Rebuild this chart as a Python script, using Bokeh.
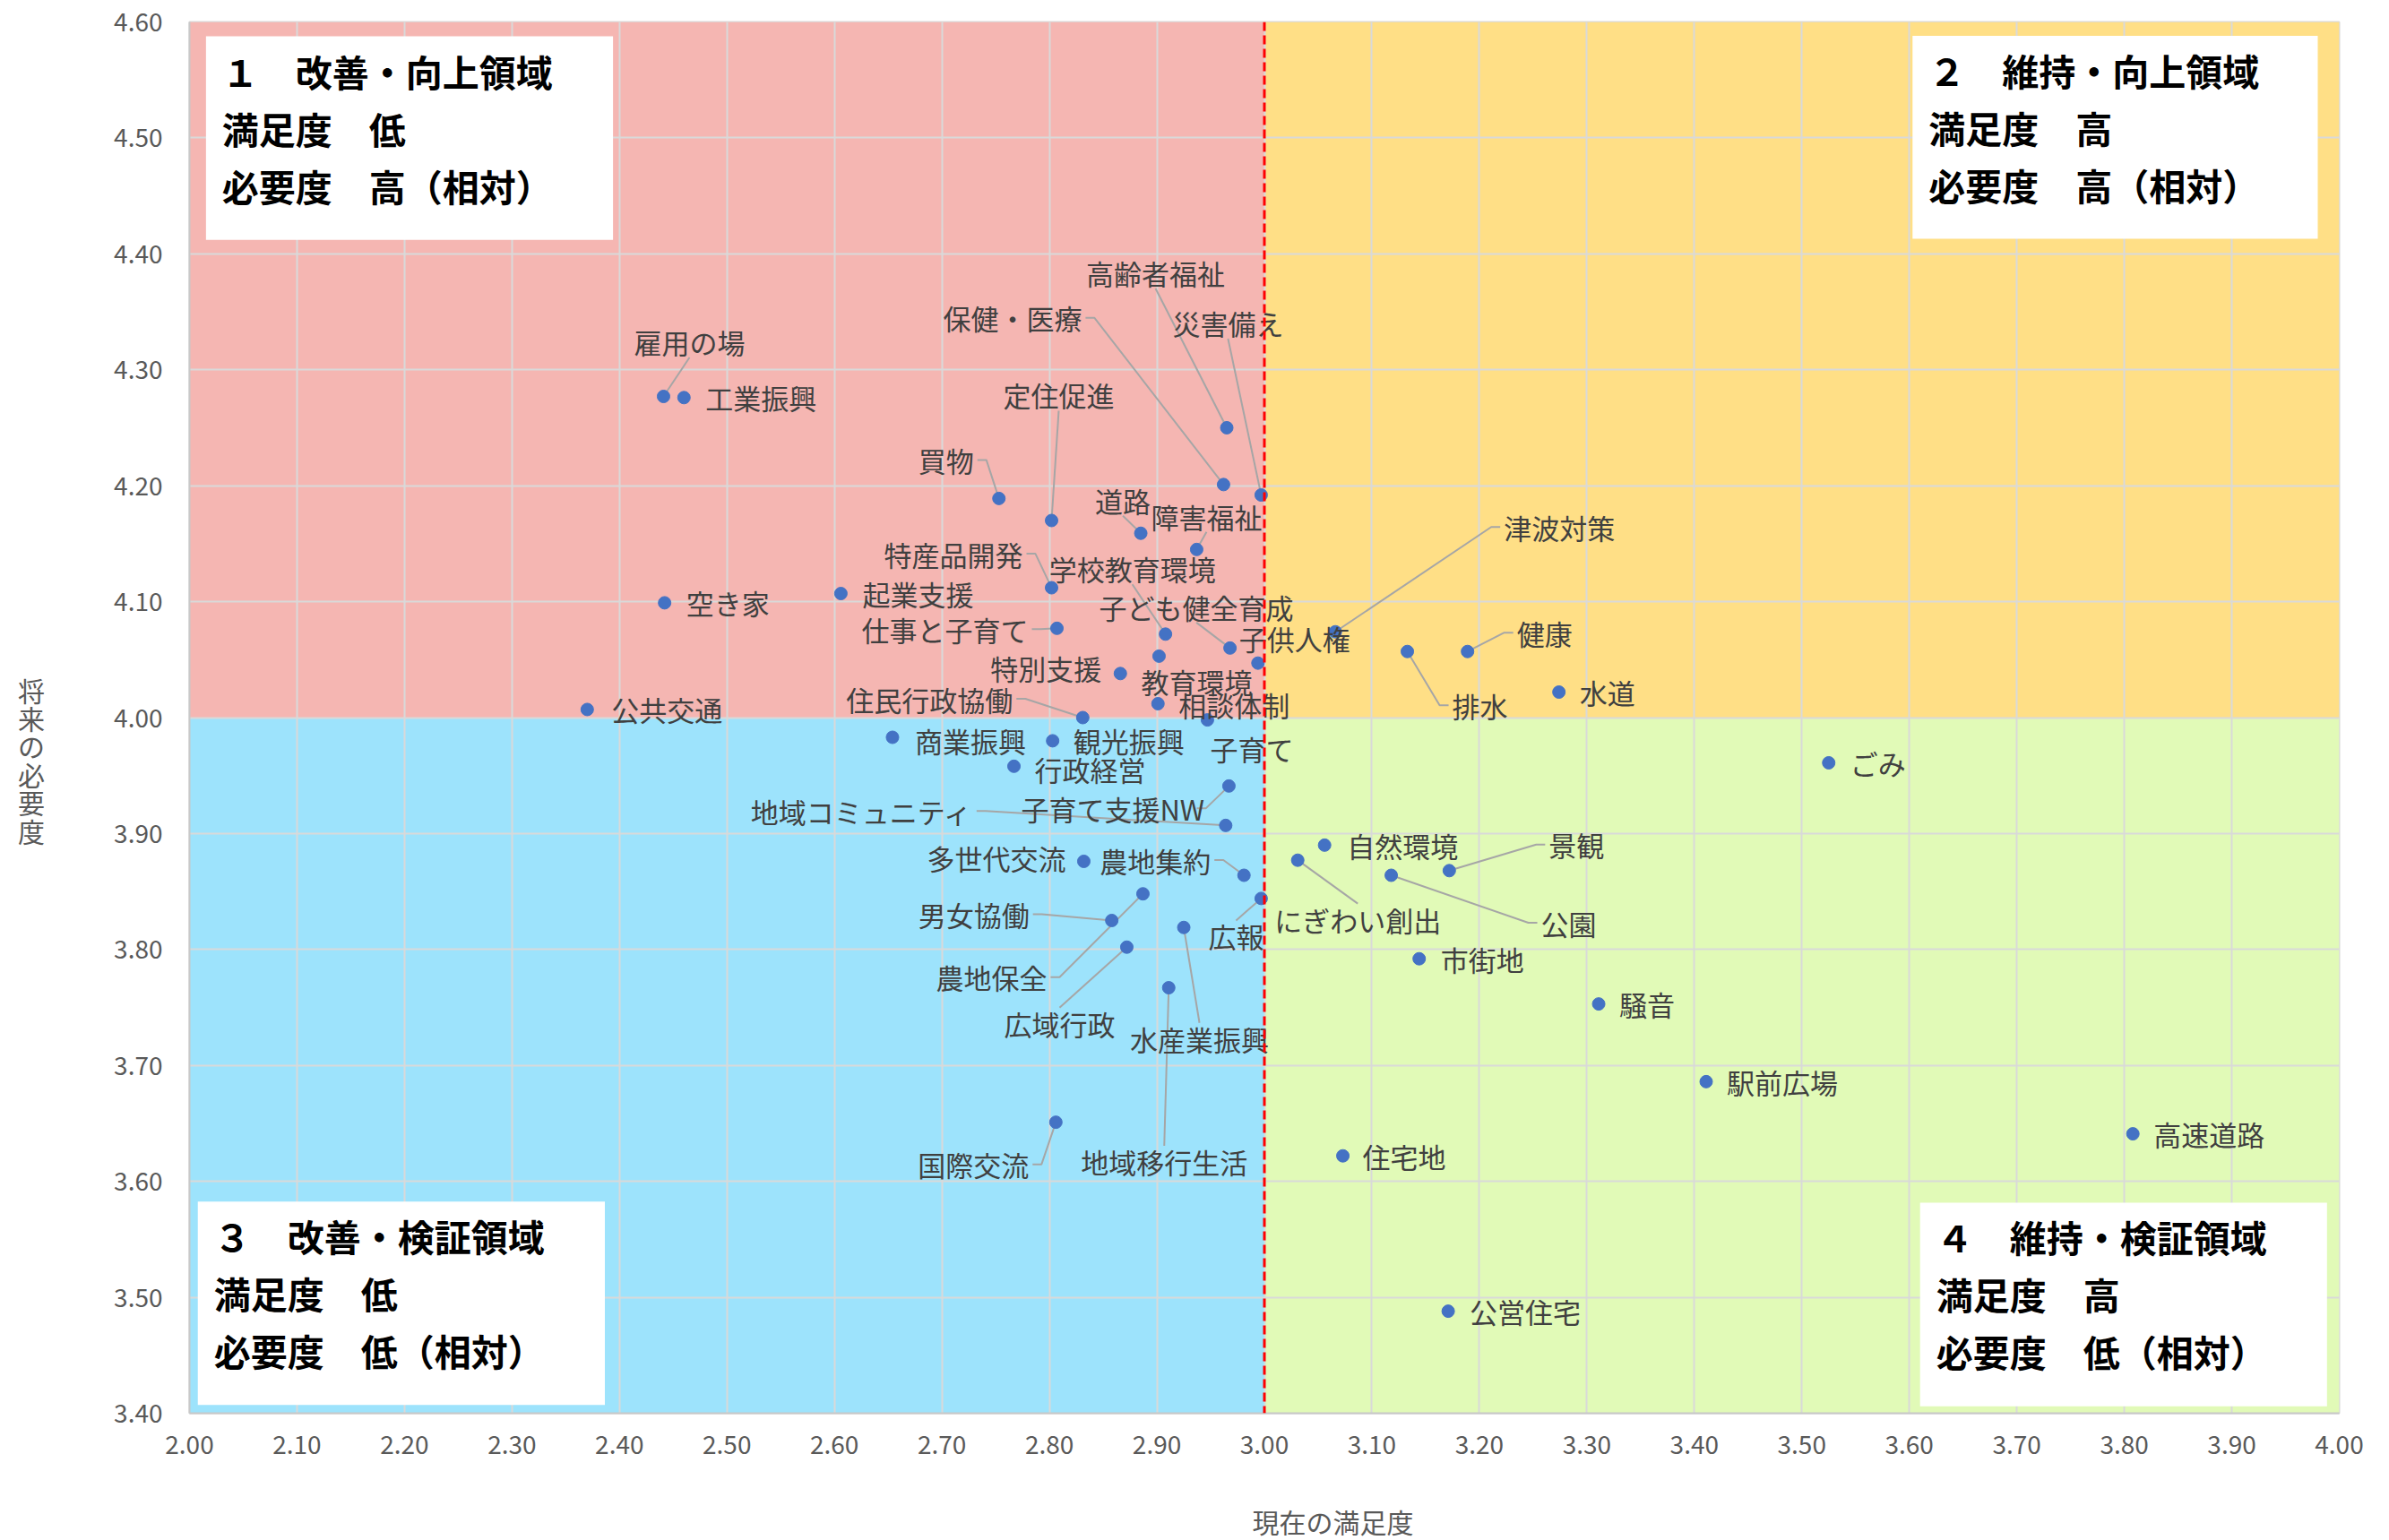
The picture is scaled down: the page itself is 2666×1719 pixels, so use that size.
from bokeh.plotting import figure
from bokeh.models import Range1d, FixedTicker, PrintfTickFormatter, Span, ColumnDataSource, LinearAxis, Title
from bokeh.embed import file_html
from bokeh.resources import INLINE
from bokeh.core.properties import value

# ---------------- data ----------------
items = [
    "雇用の場", "工業振興", "高齢者福祉", "保健・医療", "災害備え", "定住促進", "買物", "道路",
    "障害福祉", "特産品開発", "学校教育環境", "空き家", "起業支援", "仕事と子育て", "子ども健全育成",
    "子供人権", "教育環境", "特別支援", "相談体制", "住民行政協働", "公共交通",
    "津波対策", "健康", "排水", "水道",
    "商業振興", "観光振興", "子育て", "行政経営", "子育て支援NW", "地域コミュニティ", "多世代交流",
    "農地集約", "男女協働", "農地保全", "広域行政", "水産業振興", "地域移行生活", "国際交流", "広報",
    "ごみ", "自然環境", "にぎわい創出", "公園", "景観", "市街地", "騒音", "駅前広場", "住宅地",
    "高速道路", "公営住宅",
]
satisfaction = [
    2.441, 2.460, 2.965, 2.962, 2.997, 2.802, 2.753, 2.885,
    2.937, 2.802, 2.908, 2.442, 2.606, 2.807, 2.968,
    2.994, 2.902, 2.866, 2.901, 2.831, 2.370,
    3.066, 3.189, 3.133, 3.274,
    2.654, 2.803, 2.947, 2.767, 2.967, 2.964, 2.832,
    2.981, 2.858, 2.887, 2.872, 2.925, 2.911, 2.806, 2.997,
    3.525, 3.056, 3.031, 3.118, 3.172, 3.144, 3.311, 3.411, 3.073,
    3.808, 3.171,
]
necessity = [
    4.277, 4.276, 4.250, 4.201, 4.192, 4.170, 4.189, 4.159,
    4.145, 4.112, 4.072, 4.099, 4.107, 4.077, 4.060,
    4.047, 4.053, 4.038, 4.012, 4.000, 4.007,
    4.074, 4.057, 4.057, 4.022,
    3.983, 3.980, 3.998, 3.958, 3.941, 3.907, 3.876,
    3.864, 3.825, 3.848, 3.802, 3.819, 3.767, 3.651, 3.844,
    3.961, 3.890, 3.877, 3.864, 3.868, 3.792, 3.753, 3.686, 3.622,
    3.641, 3.488,
]
x_ticks = [2.0, 2.1, 2.2, 2.3, 2.4, 2.5, 2.6, 2.7, 2.8, 2.9, 3.0,
           3.1, 3.2, 3.3, 3.4, 3.5, 3.6, 3.7, 3.8, 3.9, 4.0]
y_ticks = [3.4, 3.5, 3.6, 3.7, 3.8, 3.9, 4.0, 4.1, 4.2, 4.3, 4.4, 4.5, 4.6]
x_threshold = 3.0
y_threshold = 4.0
quadrant_titles = ["１　改善・向上領域", "２　維持・向上領域", "３　改善・検証領域", "４　維持・検証領域"]
quadrant_sat = ["満足度　低", "満足度　高", "満足度　低", "満足度　高"]
quadrant_need = ["必要度　高（相対）", "必要度　高（相対）", "必要度　低（相対）", "必要度　低（相対）"]
x_title = "現在の満足度"
y_title = "将来の必要度"

# ---------------- layout (pixels) ----------------
label_dx = [-33, 24, -157, -313, -99, -54, -90, -51,
            -51, -187, -130, 24, 24, -218, -146,
            -21, -20, -145, 23, -264, 27,
            188, 55, 50, 23,
            25, 23, 3, 23, -232, -530, -175,
            -161, -216, -231, -137, -60, -98, -154, -59,
            24, 25, -26, 167, 111, 24, 23, 23, 22,
            23, 24]
label_dy = [-61, 0, -173, -186, -192, -140, -43, -37,
            -37, -38, -73, 0, 0, 1, -46,
            -28, 28, -6, 1, -21, 0,
            -117, -21, 60, 0,
            3, 0, 32, 3, 25, -16, -4,
            -17, -7, 93, 85, 124, 194, 47, 42,
            0, 0, 66, 53, -29, 0, 0, 0, 0,
            0, 0]
leader = ["B", None, "B", "R", "B", "B", "R", "B",
          "B", "R", "B", None, None, "R", "B",
          None, None, None, None, "R", None,
          "L", "L", "L", None,
          None, None, None, None, "R", "R", None,
          "R", "R", "R", "T", "T", "T", "R", "T",
          None, None, "T", "L", "L", None, None, None, None,
          None, None]

W, H = 2666, 1719
BL, BR, BT, BB = 211, 56, 24, 142
FW, FH = W - BL - BR, H - BT - BB
XMIN, XMAX, YMIN, YMAX = x_ticks[0], x_ticks[-1], y_ticks[0], y_ticks[-1]
PXX = FW / (XMAX - XMIN)
PXY = FH / (YMAX - YMIN)
FS = 31
FONT = "Noto Sans CJK JP"
X_TITLE_LEFT = 1186  # px from the plot's left edge to the start of the x title

p = figure(width=W, height=H, output_backend="svg", toolbar_location=None, title=None,
           x_range=Range1d(XMIN, XMAX), y_range=Range1d(YMIN, YMAX),
           min_border_left=BL, min_border_right=BR, min_border_top=BT, min_border_bottom=BB)
p.background_fill_color = "white"
p.border_fill_color = "white"
p.outline_line_color = "#D9D9D9"
p.outline_line_width = 2

# quadrant backgrounds
qs = p.quad(left=[XMIN, x_threshold, XMIN, x_threshold],
            right=[x_threshold, XMAX, x_threshold, XMAX],
            bottom=[y_threshold, y_threshold, YMIN, YMIN],
            top=[YMAX, YMAX, y_threshold, y_threshold],
            fill_color=["#F5B6B2", "#FFDF86", "#9DE3FC", "#E1FAB7"], line_color=None)
qs.level = "image"

# axes / grid
for ax, ticks in ((p.xaxis, x_ticks), (p.yaxis, y_ticks)):
    ax.ticker = FixedTicker(ticks=ticks)
    ax.formatter = PrintfTickFormatter(format="%.2f")
    ax.major_tick_line_color = None
    ax.minor_tick_line_color = None
    ax.major_label_text_font = FONT
    ax.major_label_text_font_size = "28px"
    ax.major_label_text_color = "#595959"
    ax.axis_line_color = "#C8C8C8"
    ax.axis_line_width = 2
    ax.axis_label_text_font = FONT
    ax.axis_label_text_font_style = "normal"
    ax.axis_label_text_color = "#595959"
p.yaxis.major_label_standoff = 24
p.xaxis.major_label_standoff = 18
p.xgrid.grid_line_color = "#D9D9D9"
p.ygrid.grid_line_color = "#D9D9D9"
p.xgrid.grid_line_width = 2
p.ygrid.grid_line_width = 2
p.xgrid.level = "underlay"
p.ygrid.level = "underlay"

# y axis title: upright stacked characters (leading blank lines shift it below centre)
yax = p.yaxis[0]
if "axis_label_orientation" in yax.properties():
    yax.axis_label = "\n\n\n" + "\n".join(y_title)
    yax.axis_label_orientation = "horizontal"
    yax.axis_label_text_line_height = 0.714
else:
    yax.axis_label = y_title
yax.axis_label_standoff = 74
yax.axis_label_text_font_size = "30px"

# bare spacer axis below the tick labels, then the x title placed right of centre
spacer = LinearAxis(ticker=FixedTicker(ticks=[]), axis_line_color=None,
                    major_tick_line_color=None, minor_tick_line_color=None,
                    major_tick_out=0, major_tick_in=0, major_label_standoff=0,
                    axis_label=" ", axis_label_standoff=44, axis_label_text_font_size="1px")
p.add_layout(spacer, "below")
p.add_layout(Title(text=x_title, align="left", offset=X_TITLE_LEFT, standoff=0,
                   text_font=FONT, text_font_size="30px", text_font_style="normal",
                   text_color="#595959"), "below")

# quadrant description boxes
box_x0 = [2.0153, 3.603, 2.0077, 3.610]
box_x1 = [2.394, 3.980, 2.3864, 3.9886]
box_y0 = [4.412, 4.413, 3.4072, 3.406]
box_y1 = [4.5876, 4.588, 3.5825, 3.5816]
p.quad(left=box_x0, right=box_x1, bottom=box_y0, top=box_y1, fill_color="white", line_color=None)
bx, by, bt = [], [], []
for i in range(4):
    for k, t in enumerate((quadrant_titles[i], quadrant_sat[i], quadrant_need[i])):
        bx.append(box_x0[i] + 18 / PXX)
        by.append(box_y1[i] - (38 + 64 * k) / PXY)
        bt.append(t)
p.text(x=bx, y=by, text=bt, text_font=value(FONT), text_font_size="41px", text_font_style="bold",
       text_color="#000000", text_align="left", text_baseline="middle")

# leader lines
def text_w(s):
    return sum(0.6 if ord(c) < 128 else 1.0 for c in s) * FS

lxs, lys = [], []
for name, x, y, dx, dy, side in zip(items, satisfaction, necessity, label_dx, label_dy, leader):
    if side is None:
        continue
    w = text_w(name)
    if side == "R":
        pts = [(dx + w + 4, dy), (dx + w + 14, dy), (0, 0)]
    elif side == "L":
        pts = [(dx - 4, dy), (dx - 14, dy), (0, 0)]
    elif side == "B":
        pts = [(dx + w / 2, dy + FS / 2 + 2), (0, 0)]
    else:
        pts = [(dx + w / 2, dy - FS / 2 - 2), (0, 0)]
    lxs.append([x + ox / PXX for ox, oy in pts])
    lys.append([y - oy / PXY for ox, oy in pts])
p.multi_line(xs=lxs, ys=lys, line_color="#A6A6A6", line_width=2)

src = ColumnDataSource(dict(x=satisfaction, y=necessity, name=items, dx=label_dx, dy=label_dy))
p.scatter(x="x", y="y", source=src, size=14, fill_color="#4472C4", line_color="#4472C4")
p.text(x="x", y="y", text="name", x_offset="dx", y_offset="dy", source=src,
       text_font=value(FONT), text_font_size=f"{FS}px", text_color="#404040",
       text_align="left", text_baseline="middle")

p.add_layout(Span(location=x_threshold, dimension="height", line_color="#FF0000",
                  line_dash="10 5", line_width=3))

open("out.html", "w").write(file_html(p, INLINE))
